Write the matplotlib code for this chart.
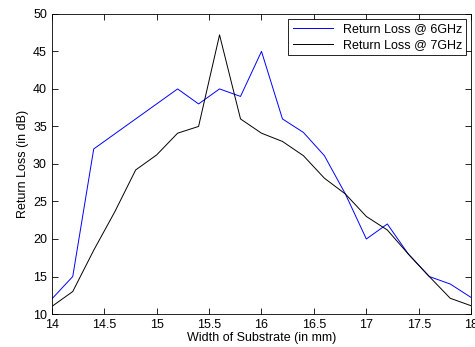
import matplotlib.pyplot as plt
import numpy as np

plt.rcParams['font.family'] = ['Liberation Sans', 'DejaVu Sans']

# larghezza del substrato (mm)
width = [14.0, 14.2, 14.4, 14.6, 14.8, 15.0, 15.2, 15.4, 15.6, 15.8, 16.0,
         16.2, 16.4, 16.6, 16.8, 17.0, 17.2, 17.4, 17.6, 17.8, 18.0]
rl_6ghz = [12, 15, 32, 34, 36, 38, 40, 38, 40, 39, 45,
           36, 34.2, 31.1, 26, 20, 22, 18, 15, 14, 12.2]
rl_7ghz = [11, 13, 18.5, 23.6, 29.2, 31.2, 34.1, 35, 47.2, 36, 34.1,
           33, 31.1, 28.1, 26, 23, 21.2, 18, 15, 12.1, 11.1]

xticks = [14, 14.5, 15, 15.5, 16, 16.5, 17, 17.5, 18]
yticks = [10, 15, 20, 25, 30, 35, 40, 45, 50]

fig = plt.figure(figsize=(4.75, 3.47), dpi=100)
ax = fig.add_axes([0.109, 0.095, 0.883, 0.865])

ax.plot(width, rl_6ghz, color='#0000ff', linewidth=0.7, label='Return Loss @ 6GHz')
ax.plot(width, rl_7ghz, color='black', linewidth=0.7, label='Return Loss @ 7GHz')

ax.set_xlim(14, 18)
ax.set_ylim(10, 50)
ax.set_xticks(xticks)
ax.set_xticklabels(['14', '14.5', '15', '15.5', '16', '16.5', '17', '17.5', '18'])
ax.set_yticks(yticks)
ax.tick_params(direction='in', top=True, right=True, labelsize=9, length=4, width=0.6, pad=3.5)
for s in ax.spines.values():
    s.set_linewidth(0.6)

ax.set_xlabel('Width of Substrate (in mm)', fontsize=9, labelpad=1)
ax.set_ylabel('Return Loss (in dB)', fontsize=9, labelpad=3)

leg = ax.legend(loc='upper right', fontsize=9, fancybox=False, edgecolor='black',
                handlelength=3.2, borderaxespad=0.4, borderpad=0.35, labelspacing=0.3,
                framealpha=1)
leg.get_frame().set_linewidth(0.6)

plt.savefig('out.png', dpi=100)
